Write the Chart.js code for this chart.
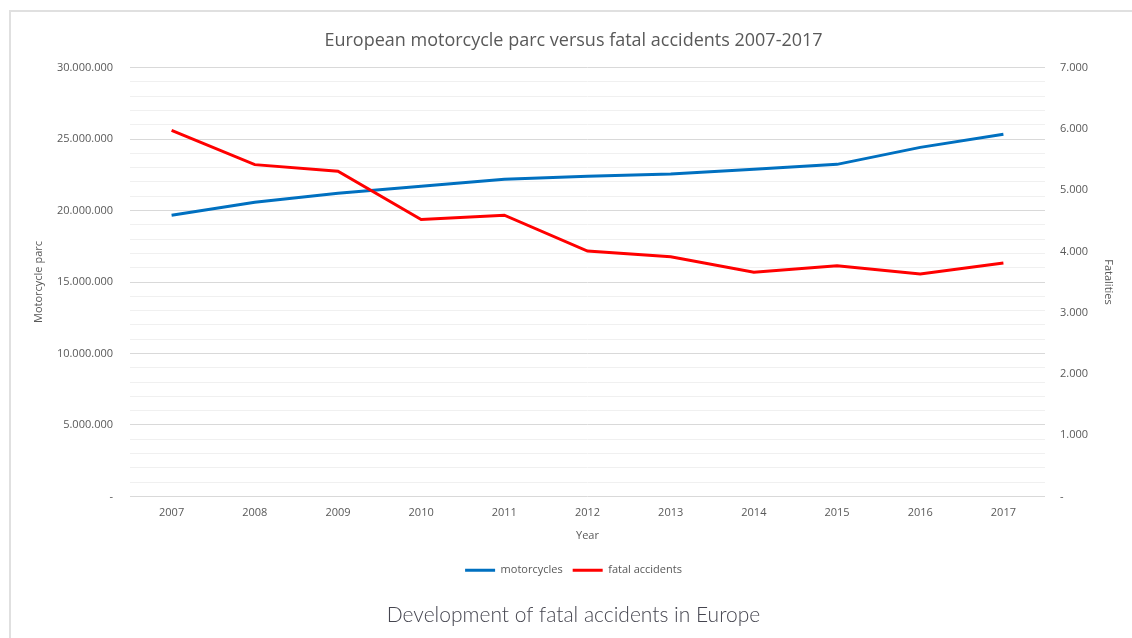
<!DOCTYPE html>
<html>
<head>
<meta charset="utf-8">
<script src="https://cdn.jsdelivr.net/npm/chart.js@4"></script>
<style>
  body { margin: 0; background: #fff; }
  #frame { position: absolute; left: 9px; top: 10px; width: 1140px; height: 640px; border: 2px solid #e0e0e0; }
  #chart { position: absolute; left: 0; top: 0; }
</style>
</head>
<body>
<div id="frame"></div>
<canvas id="chart" width="1132" height="638"></canvas>
<script>
const years = ['2007', '2008', '2009', '2010', '2011', '2012', '2013', '2014', '2015', '2016', '2017'];
const motorcycles = [19670000, 20580000, 21210000, 21700000, 22190000, 22400000, 22550000, 22880000, 23230000, 24420000, 25330000];
const fatalAccidents = [5974, 5416, 5307, 4520, 4591, 4005, 3912, 3658, 3766, 3630, 3809];

const grey = '#595959';

function dots(n) {
    return n.toString().replace(/\B(?=(\d{3})+(?!\d))/g, '.');
}

const ctx = document.getElementById('chart').getContext('2d');
new Chart(ctx, {
    type: 'line',
    data: {
        labels: years,
        datasets: [{
            label: 'motorcycles',
            data: motorcycles,
            borderColor: '#0070c0',
            backgroundColor: '#0070c0',
            borderWidth: 3,
            pointRadius: 0,
            tension: 0,
            yAxisID: 'y',
            order: 2
        }, {
            label: 'fatal accidents',
            data: fatalAccidents,
            borderColor: '#ff0000',
            backgroundColor: '#ff0000',
            borderWidth: 3,
            pointRadius: 0,
            tension: 0,
            yAxisID: 'y1',
            order: 1
        }]
    },
    options: {
        responsive: false,
        animation: false,
        layout: { padding: { left: 28, right: 13, top: 0, bottom: 0 } },
        plugins: {
            title: {
                display: true,
                text: 'European motorcycle parc versus fatal accidents 2007-2017',
                color: grey,
                font: { family: 'Open Sans', size: 18, weight: 'normal' },
                padding: { top: 30, bottom: 16 }
            },
            subtitle: {
                display: true,
                position: 'bottom',
                text: 'Development of fatal accidents in Europe',
                color: '#45454f',
                font: { family: 'Lato', size: 21, weight: 300 },
                padding: { top: 17, bottom: 10 }
            },
            legend: {
                position: 'bottom',
                labels: {
                    usePointStyle: true,
                    pointStyle: 'line',
                    pointStyleWidth: 30,
                    color: grey,
                    font: { family: 'Open Sans', size: 11 },
                    padding: 10,
                    sort: (a, b) => a.datasetIndex - b.datasetIndex
                }
            },
            tooltip: { enabled: false }
        },
        scales: {
            x: {
                offset: true,
                grid: { display: false, drawTicks: false },
                border: { display: false },
                ticks: { color: grey, font: { family: 'Open Sans', size: 11 }, padding: 10 },
                title: {
                    display: true,
                    text: 'Year',
                    color: grey,
                    font: { family: 'Open Sans', size: 11 },
                    padding: { top: 0, bottom: 12 }
                }
            },
            y: {
                position: 'left',
                min: 0,
                max: 30000000,
                border: { display: false },
                grid: {
                    drawTicks: false,
                    color: c => (c.tick.value % 5000000 === 0 ? '#d9d9d9' : '#f0f0f0'),
                    lineWidth: 1
                },
                ticks: {
                    stepSize: 1000000,
                    autoSkip: false,
                    padding: 17,
                    color: grey,
                    font: { family: 'Open Sans', size: 11 },
                    callback: v => (v === 0 ? '-' : (v % 5000000 === 0 ? dots(v) : ''))
                },
                title: {
                    display: true,
                    text: 'Motorcycle parc',
                    color: grey,
                    font: { family: 'Open Sans', size: 11 },
                    padding: { top: 4, bottom: 0 }
                },
                afterFit: s => { s.width = 102; }
            },
            y1: {
                position: 'right',
                min: 0,
                max: 7000,
                border: { display: false },
                grid: { drawOnChartArea: false, drawTicks: false },
                ticks: {
                    stepSize: 1000,
                    padding: 15,
                    color: grey,
                    font: { family: 'Open Sans', size: 11 },
                    callback: v => (v === 0 ? '-' : dots(v))
                },
                title: {
                    display: true,
                    text: 'Fatalities',
                    color: grey,
                    font: { family: 'Open Sans', size: 11 },
                    padding: { top: 4, bottom: 0 }
                },
                afterFit: s => { s.width = 74; }
            }
        }
    }
});
</script>
</body>
</html>
